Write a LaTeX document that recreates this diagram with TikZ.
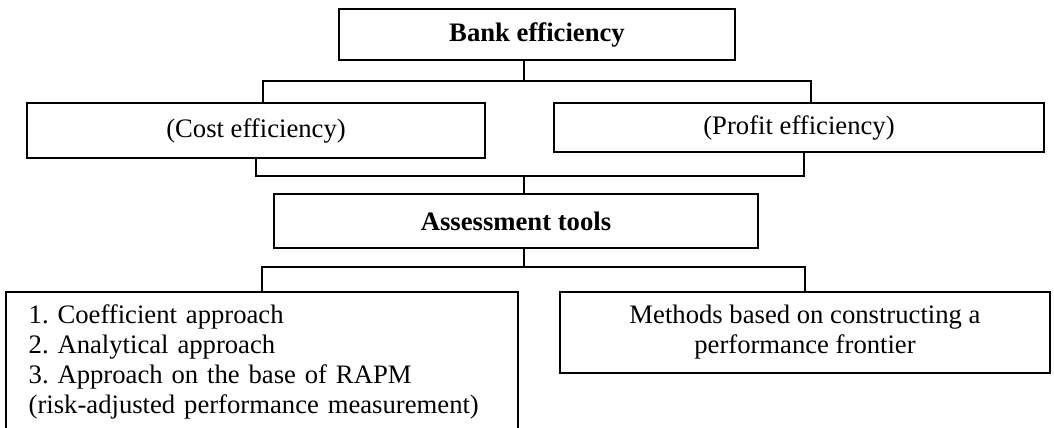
\documentclass[tikz,border=0pt]{standalone}
\usepackage{fontspec}
\setmainfont{Liberation Serif}
\usetikzlibrary{positioning}
\frenchspacing

\begin{document}
\begin{tikzpicture}[x=0.75pt, y=-0.75pt, line width=1.3pt,
  box/.style={draw, rectangle, inner sep=0pt, align=center, font=\fontsize{20}{22.5}\selectfont},
  boldbox/.style={box, font=\fontsize{20}{22.5}\selectfont\bfseries}]
  \useasboundingbox (0,0) rectangle (1054,428);

  % top level
  \node[boldbox, minimum width=297pt, minimum height=38.25pt] (bank) at (537,34.5) {Bank efficiency};

  % two kinds of efficiency
  \node[box, minimum width=343.5pt, minimum height=41.25pt] (cost) at (256,130.5) {(Cost efficiency)};
  \node[box, minimum width=367.5pt, minimum height=36.75pt] (profit) at (799,127.5) {(Profit efficiency)};

  % tools
  \node[boldbox, minimum width=363pt, minimum height=40.5pt] (assess) at (516,221) {Assessment tools};

  % groups of methods
  \node[box, minimum height=105pt, text width=350pt, inner xsep=17pt, align=left] (coef) at (262,362)
    {1. Coefficient approach\\2. Analytical approach\\3. Approach on the base of RAPM\\(risk-adjusted performance measurement)};
  \node[box, minimum width=367.5pt, minimum height=60.75pt] (frontier) at (805,332.5)
    {Methods based on constructing a\\performance frontier};

  % junctions
  \coordinate (j1) at (524,81);
  \coordinate (j2) at (524,176);
  \coordinate (j3) at (524,267);

  % connectors
  \draw (j1 |- bank.south) -- (j1);
  \draw ([xshift=5.25pt]cost.north) |- (j1) -| ([xshift=9pt]profit.north);
  \draw (cost.south) |- (j2) -| ([xshift=3.75pt]profit.south);
  \draw (j2) -- (j2 |- assess.north);
  \draw (j3 |- assess.south) -- (j3);
  \draw (coef.north) |- (j3) -| (frontier.north);
\end{tikzpicture}
\end{document}
